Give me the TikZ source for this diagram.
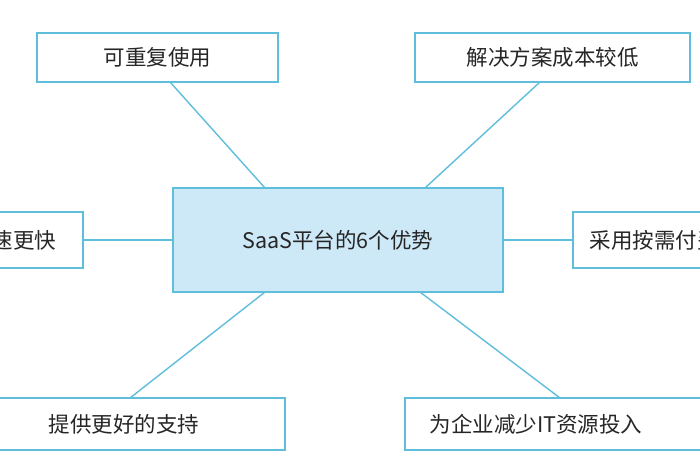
\documentclass[tikz,border=0pt]{standalone}
\usepackage{fontspec}
\setmainfont{Noto Sans CJK SC}[BoldFont={Noto Sans CJK SC Medium}]
\begin{document}
\begin{tikzpicture}[x=1pt,y=-1pt,
  edge/.style={draw=lineb,line width=1.4pt},
  leaf/.style={draw=lineb,line width=2pt,fill=white,inner sep=0pt,font=\fontsize{21.5}{24}\selectfont,text=black!85},
  lbl/.style={font=\fontsize{21.5}{24}\selectfont,text=black!85},
]
\definecolor{lineb}{RGB}{95,190,220}
\definecolor{cfill}{RGB}{205,232,246}
\useasboundingbox (0,0) rectangle (700,470);
\clip (0,0) rectangle (700,470);
\fill[white] (0,0) rectangle (700,470);
\node[leaf,fill=cfill,minimum width=330,minimum height=104] (c) at (338,240) {SaaS平台的6个优势};
\node[leaf,minimum width=241,minimum height=49] (tl) at (157.5,57.5) {可重复使用};
\node[leaf,minimum width=275,minimum height=49] (tr) at (552.5,57.5) {解决方案成本较低};
\node[leaf,minimum width=120,minimum height=56] (l) at (23,240) {};
\node[lbl,anchor=east] (lt) at (60,240) {速更快};
\node[leaf,minimum width=160,minimum height=56] (r) at (653,240) {};
\node[lbl,anchor=west] (rt) at (586,240) {采用按需付费};
\node[leaf,minimum width=300,minimum height=52] (bl) at (135,424) {};
\node[lbl] (blt) at (124,424) {提供更好的支持};
\node[leaf,minimum width=320,minimum height=52] (br) at (565,424) {};
\node[lbl,anchor=west] (brt) at (426,424) {为企业减少IT资源投入};
\draw[edge] (170,82) -- (265,188);
\draw[edge] (540,82) -- (425,188);
\draw[edge] (l.east) -- (c.west);
\draw[edge] (c.east) -- (r.west);
\draw[edge] (265,292) -- (130,398);
\draw[edge] (420,292) -- (560,398);
\end{tikzpicture}
\end{document}
